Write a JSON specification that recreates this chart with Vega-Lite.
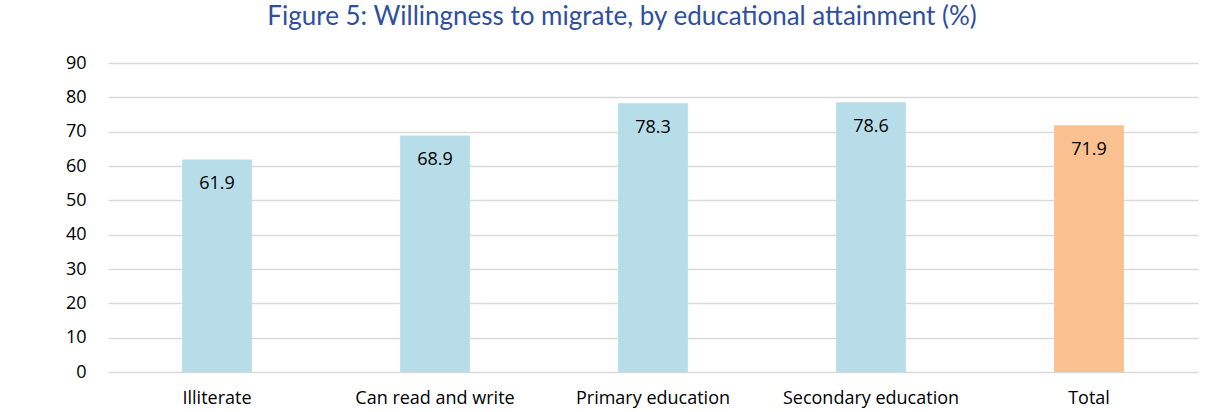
{
  "$schema": "https://vega.github.io/schema/vega-lite/v6.json",
  "width": 1090,
  "height": 309,
  "autosize": {"type": "none"},
  "padding": {"left": 108, "top": 63, "right": 27, "bottom": 40},
  "background": "white",
  "title": {
    "text": "Figure 5: Willingness to migrate, by educational attainment (%)",
    "font": "Lato",
    "fontSize": 26,
    "fontWeight": "normal",
    "color": "#2F4F9E",
    "anchor": "middle",
    "dx": -31,
    "offset": 24
  },
  "data": {
    "values": [
      {"category": "Illiterate", "value": 61.9, "group": "edu"},
      {"category": "Can read and write", "value": 68.9, "group": "edu"},
      {"category": "Primary education", "value": 78.3, "group": "edu"},
      {"category": "Secondary education", "value": 78.6, "group": "edu"},
      {"category": "Total", "value": 71.9, "group": "total"}
    ]
  },
  "encoding": {
    "x": {
      "field": "category",
      "type": "nominal",
      "sort": null,
      "scale": {"paddingInner": 0.68, "paddingOuter": 0.34},
      "axis": {
        "title": null,
        "labelAngle": 0,
        "labelFont": "Open Sans",
        "labelFontSize": 18,
        "labelColor": "#000000",
        "labelPadding": 17,
        "ticks": false,
        "domain": false
      }
    },
    "y": {
      "field": "value",
      "type": "quantitative",
      "scale": {"domain": [0, 90]},
      "axis": {
        "title": null,
        "values": [0, 10, 20, 30, 40, 50, 60, 70, 80, 90],
        "labelFont": "Open Sans",
        "labelFontSize": 18,
        "labelColor": "#000000",
        "labelPadding": 22,
        "ticks": false,
        "domain": false,
        "grid": true,
        "gridColor": "#D9D9D9",
        "gridWidth": 1.5
      }
    }
  },
  "layer": [
    {
      "mark": {"type": "bar"},
      "encoding": {
        "color": {
          "field": "group",
          "type": "nominal",
          "scale": {"domain": ["edu", "total"], "range": ["#B7DDE8", "#FAC090"]},
          "legend": null
        }
      }
    },
    {
      "mark": {"type": "text", "font": "Open Sans", "fontSize": 18, "color": "#000000", "baseline": "middle", "dy": 25},
      "encoding": {
        "text": {"field": "value", "type": "quantitative", "format": ".1f"}
      }
    }
  ],
  "config": {"view": {"stroke": null}}
}
